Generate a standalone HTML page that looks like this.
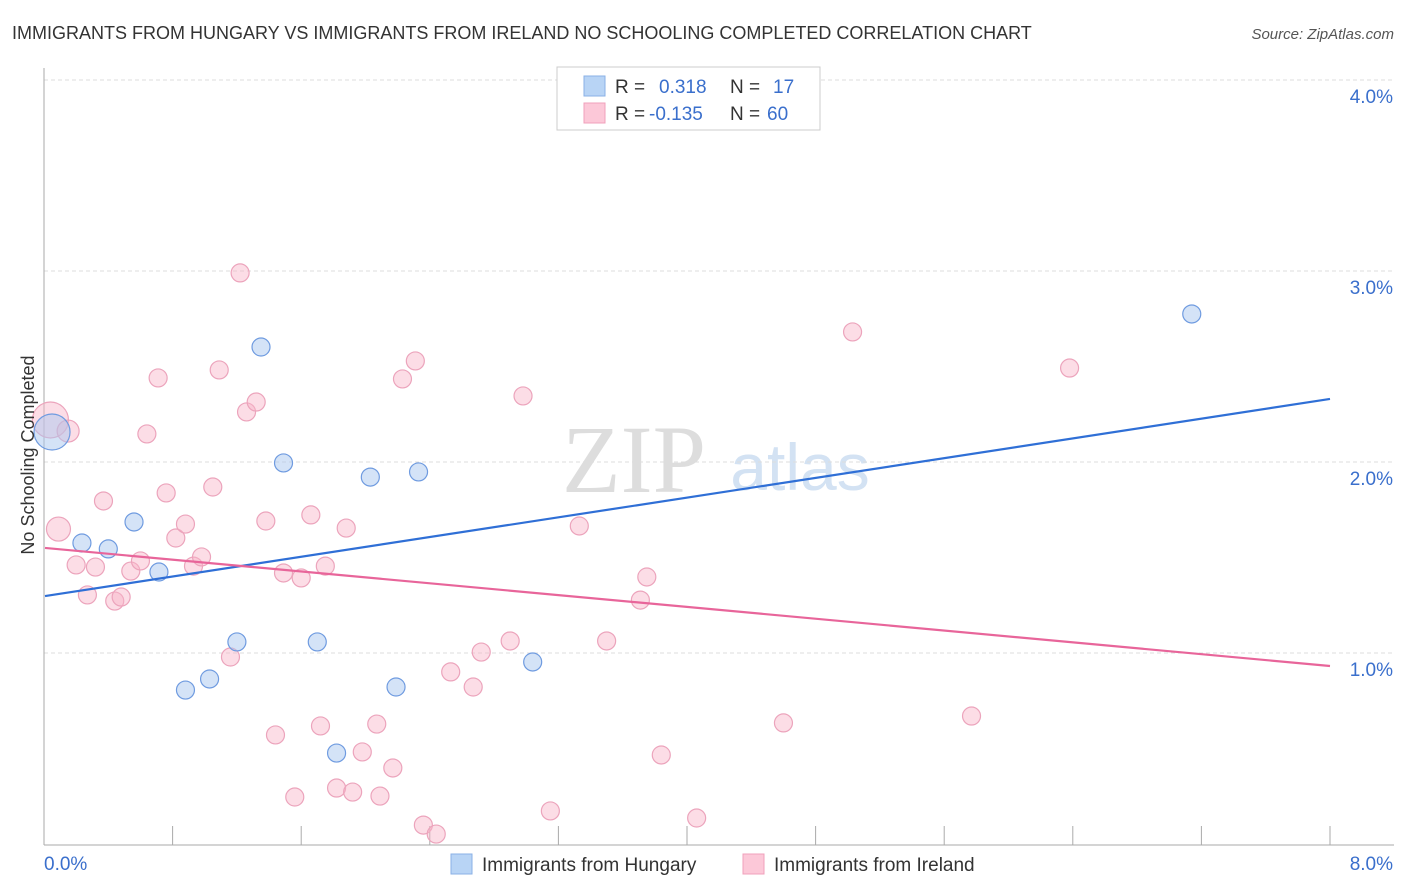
<!DOCTYPE html>
<html><head><meta charset="utf-8"><style>
body{margin:0;background:#fff;font-family:"Liberation Sans",sans-serif;}
svg{display:block}
</style></head><body>
<svg width="1406" height="892" xmlns="http://www.w3.org/2000/svg">
<text x="12" y="39" font-size="18" fill="#333">IMMIGRANTS FROM HUNGARY VS IMMIGRANTS FROM IRELAND NO SCHOOLING COMPLETED CORRELATION CHART</text>
<text x="1394" y="39" font-size="15" fill="#555" font-style="italic" text-anchor="end">Source: ZipAtlas.com</text>
<text x="634" y="492" font-size="96" fill="#ddd" font-family="Liberation Serif" text-anchor="middle">ZIP</text>
<text x="800" y="490" font-size="66" fill="#d3e2f3" text-anchor="middle">atlas</text>
<g id="grid"></g>
<g id="axes"></g>
<g id="marks"></g>
<text transform="translate(34,455) rotate(-90)" font-size="18" fill="#333" text-anchor="middle">No Schooling Completed</text>
<g>
<rect x="557" y="67" width="263" height="63" fill="#fff" stroke="#ccc"/>
<rect x="584" y="76" width="21" height="20" fill="#b8d4f5" stroke="#8ab0e6"/>
<rect x="584" y="103" width="21" height="20" fill="#fcc8d8" stroke="#f0a0bb"/>
<text x="615" y="93" font-size="19" fill="#333">R = </text><text x="659" y="93" font-size="19" fill="#3a6fcc">0.318</text>
<text x="730" y="93" font-size="19" fill="#333">N = </text><text x="773" y="93" font-size="19" fill="#3a6fcc">17</text>
<text x="615" y="120" font-size="19" fill="#333">R = </text><text x="649" y="120" font-size="19" fill="#3a6fcc">-0.135</text>
<text x="730" y="120" font-size="19" fill="#333">N = </text><text x="767" y="120" font-size="19" fill="#3a6fcc">60</text>
</g>
<g>
<rect x="451" y="854" width="21" height="20" fill="#b8d4f5" stroke="#8ab0e6"/>
<text x="482" y="871" font-size="19" fill="#333">Immigrants from Hungary</text>
<rect x="743" y="854" width="21" height="20" fill="#fcc8d8" stroke="#f0a0bb"/>
<text x="774" y="871" font-size="19" fill="#333">Immigrants from Ireland</text>
</g>
</svg>
<script>
const yTicks=[1,2,3,4];
const yTickLabels=["1.0%","2.0%","3.0%","4.0%"];
const xTickLabels=["0.0%","8.0%"];
const hungaryX=[0.05,0.236,0.40,0.56,0.715,0.88,1.03,1.20,1.35,1.49,1.70,1.82,2.03,2.19,2.33,3.04,7.14];
const hungaryY=[2.157,1.576,1.545,1.686,1.424,0.806,0.864,1.058,2.602,1.995,1.058,0.476,1.921,0.822,1.948,0.953,2.775];
const hungaryR=[18,9,9,9,9,9,9,9,9,9,9,9,9,9,9,9,9];
const irelandX=[0.04,0.09,0.15,0.20,0.27,0.32,0.37,0.44,0.48,0.54,0.60,0.64,0.71,0.76,0.82,0.88,0.93,0.98,1.05,1.09,1.16,1.22,1.26,1.32,1.38,1.44,1.49,1.56,1.60,1.66,1.72,1.75,1.82,1.88,1.92,1.98,2.07,2.09,2.17,2.23,2.31,2.36,2.44,2.53,2.67,2.72,2.90,2.98,3.15,3.33,3.50,3.71,3.75,3.84,4.06,4.60,5.03,5.77,6.38];
const irelandY=[2.22,1.649,2.162,1.461,1.304,1.450,1.796,1.272,1.293,1.429,1.482,2.147,2.440,1.838,1.602,1.675,1.455,1.503,1.869,2.482,0.979,2.990,2.262,2.314,1.691,0.571,1.419,0.246,1.393,1.723,0.618,1.455,0.293,1.654,0.272,0.482,0.628,0.251,0.398,2.435,2.529,0.099,0.052,0.901,0.822,1.005,1.063,2.346,0.173,1.665,1.063,1.277,1.398,0.466,0.136,0.634,2.681,0.670,2.492];
const irelandR=[18,12,11,9,9,9,9,9,9,9,9,9,9,9,9,9,9,9,9,9,9,9,9,9,9,9,9,9,9,9,9,9,9,9,9,9,9,9,9,9,9,9,9,9,9,9,9,9,9,9,9,9,9,9,9,9,9,9,9];
const hungaryTrend=[1.298,2.330];
const irelandTrend=[1.550,0.932];
const trendX=[0,8];

const NS="http://www.w3.org/2000/svg";
const X0=44,X1=1330,Y0=844;
function sx(v){return X0+v*(X1-X0)/8;}
function sy(v){return Y0-v*191;}
function mk(tag,attrs,parent){const e=document.createElementNS(NS,tag);for(const k in attrs)e.setAttribute(k,attrs[k]);parent.appendChild(e);return e;}
const grid=document.getElementById('grid'),axes=document.getElementById('axes'),marks=document.getElementById('marks');
yTicks.forEach((t,i)=>{
  const l=mk('line',{x1:X0,x2:1394,y1:sy(t),y2:sy(t),stroke:'#ddd','stroke-dasharray':'4,3'},grid);
  
  
  const tx=mk('text',{x:1393,y:sy(t)+23,'font-size':19,fill:'#3a6fcc','text-anchor':'end'},axes);
  tx.textContent=yTickLabels[i];
  
  
});
let a=mk('line',{x1:X0,x2:X0,y1:68,y2:Y0+1,stroke:'#aaa'},axes);


a=mk('line',{x1:X0,x2:1394,y1:Y0+1,y2:Y0+1,stroke:'#aaa'},axes);


for(let i=1;i<=10;i++){
  const t=mk('line',{x1:sx(i*0.8),x2:sx(i*0.8),y1:826,y2:Y0+1,stroke:'#aaa'},axes);
  
  
}
[[0,'start',X0],[8,'end',1393]].forEach((d,i)=>{
  const tx=mk('text',{x:d[2],y:870,'font-size':19,fill:'#3a6fcc','text-anchor':d[1]},axes);
  tx.textContent=xTickLabels[i];
  
  
});
irelandX.forEach((x,i)=>{
  const c=mk('circle',{cx:sx(x),cy:sy(irelandY[i]),r:irelandR[i],fill:'rgba(248,180,200,0.45)',stroke:'#eca4bc','stroke-width':1.2},marks);
  
  
});
hungaryX.forEach((x,i)=>{
  const c=mk('circle',{cx:sx(x),cy:sy(hungaryY[i]),r:hungaryR[i],fill:'rgba(170,200,240,0.5)',stroke:'#6f9be0','stroke-width':1.2},marks);
  
  
});
let tl=mk('line',{x1:sx(trendX[0])+1,x2:sx(trendX[1]),y1:sy(hungaryTrend[0]),y2:sy(hungaryTrend[1]),stroke:'#2f6fd6','stroke-width':2.2},marks);


tl=mk('line',{x1:sx(trendX[0])+1,x2:sx(trendX[1]),y1:sy(irelandTrend[0]),y2:sy(irelandTrend[1]),stroke:'#e8659a','stroke-width':2.2},marks);


</script>
</body></html>
